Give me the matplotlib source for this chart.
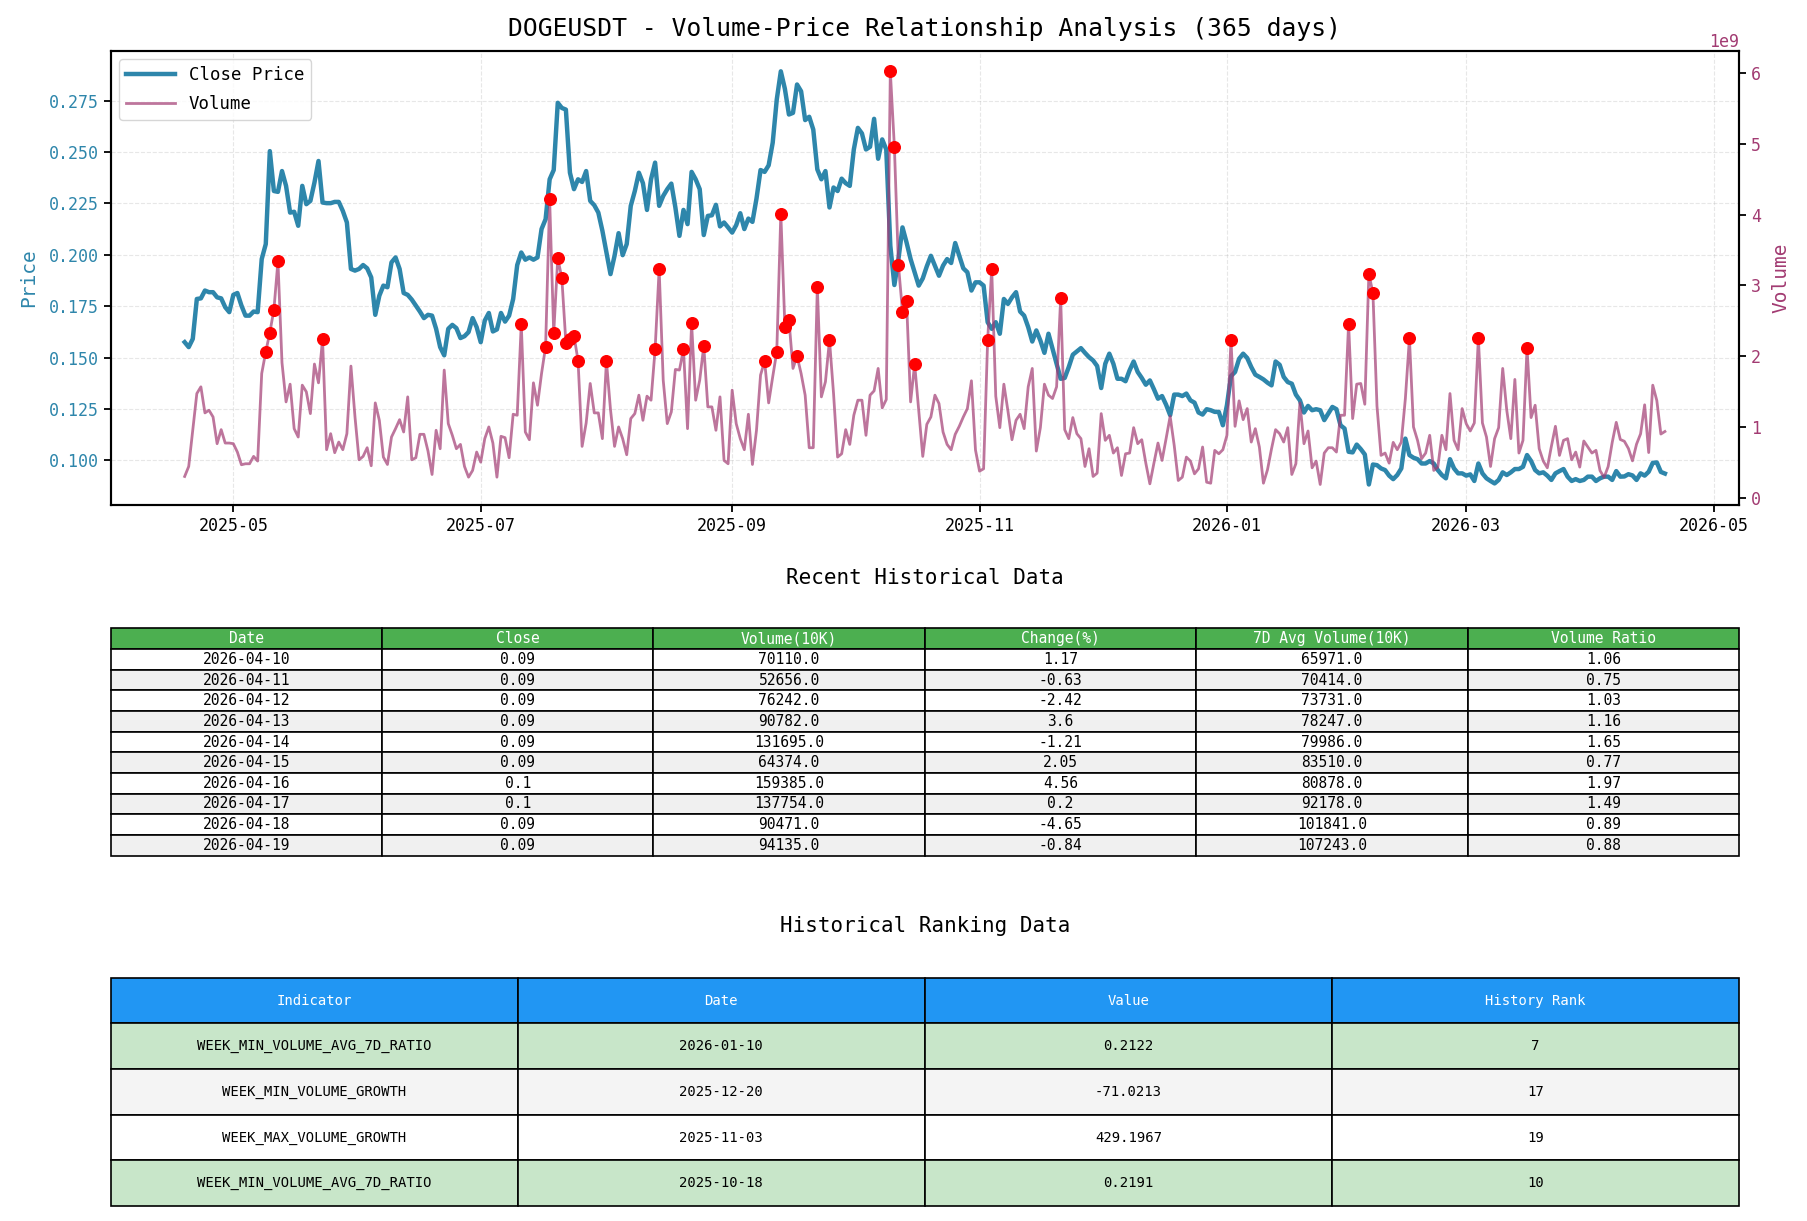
import numpy as np
import pandas as pd
import matplotlib
matplotlib.use('Agg')
import matplotlib.pyplot as plt
import matplotlib.dates as mdates

plt.rcParams['font.family'] = ['DejaVu Sans Mono']
plt.rcParams['axes.unicode_minus'] = False

# daily data 2025-04-19 .. 2026-04-19
dates = pd.date_range('2025-04-19', '2026-04-19', freq='D')

close = [
    0.1575, 0.1551, 0.1591, 0.1785, 0.1788, 0.1826, 0.1818, 0.1818, 0.1793, 0.1788,
    0.1745, 0.1721, 0.1805, 0.1814, 0.1753, 0.1704, 0.1704, 0.1724, 0.1721, 0.1979,
    0.2052, 0.2504, 0.2310, 0.2306, 0.2407, 0.2335, 0.2205, 0.2209, 0.2141, 0.2335,
    0.2246, 0.2262, 0.2351, 0.2456, 0.2254, 0.2251, 0.2251, 0.2257, 0.2257, 0.2213,
    0.2157, 0.1931, 0.1923, 0.1931, 0.1950, 0.1934, 0.1890, 0.1708, 0.1801, 0.1850,
    0.1842, 0.1963, 0.1987, 0.1931, 0.1814, 0.1805, 0.1782, 0.1753, 0.1724, 0.1692,
    0.1708, 0.1704, 0.1640, 0.1551, 0.1511, 0.1640, 0.1659, 0.1643, 0.1595, 0.1604,
    0.1624, 0.1692, 0.1648, 0.1575, 0.1680, 0.1717, 0.1627, 0.1637, 0.1717, 0.1675,
    0.1704, 0.1785, 0.1950, 0.2011, 0.1976, 0.1987, 0.1976, 0.1987, 0.2125, 0.2173,
    0.2367, 0.2412, 0.2739, 0.2714, 0.2706, 0.2399, 0.2319, 0.2367, 0.2354, 0.2407,
    0.2262, 0.2241, 0.2205, 0.2117, 0.2011, 0.1906, 0.1995, 0.2105, 0.1998, 0.2052,
    0.2238, 0.2310, 0.2399, 0.2348, 0.2218, 0.2367, 0.2448, 0.2238, 0.2286, 0.2319,
    0.2346, 0.2230, 0.2092, 0.2218, 0.2149, 0.2403, 0.2367, 0.2319, 0.2096, 0.2189,
    0.2192, 0.2243, 0.2138, 0.2157, 0.2133, 0.2108, 0.2144, 0.2202, 0.2125, 0.2176,
    0.2160, 0.2273, 0.2412, 0.2403, 0.2435, 0.2545, 0.2755, 0.2892, 0.2807, 0.2682,
    0.2690, 0.2828, 0.2795, 0.2655, 0.2671, 0.2609, 0.2415, 0.2367, 0.2407, 0.2230,
    0.2327, 0.2310, 0.2370, 0.2348, 0.2335, 0.2512, 0.2617, 0.2590, 0.2512, 0.2525,
    0.2661, 0.2467, 0.2561, 0.2512, 0.2044, 0.1853, 0.1979, 0.2133, 0.2060, 0.1979,
    0.1915, 0.1850, 0.1885, 0.1944, 0.1995, 0.1947, 0.1898, 0.1947, 0.1979, 0.1960,
    0.2057, 0.1995, 0.1934, 0.1915, 0.1826, 0.1866, 0.1866, 0.1850, 0.1672, 0.1640,
    0.1672, 0.1616, 0.1785, 0.1761, 0.1793, 0.1818, 0.1724, 0.1704, 0.1648, 0.1578,
    0.1632, 0.1583, 0.1523, 0.1616, 0.1543, 0.1470, 0.1397, 0.1401, 0.1454, 0.1514,
    0.1530, 0.1546, 0.1523, 0.1502, 0.1486, 0.1459, 0.1352, 0.1470, 0.1519, 0.1470,
    0.1397, 0.1397, 0.1385, 0.1438, 0.1481, 0.1430, 0.1401, 0.1368, 0.1389, 0.1346,
    0.1300, 0.1313, 0.1271, 0.1220, 0.1320, 0.1320, 0.1313, 0.1325, 0.1292, 0.1281,
    0.1233, 0.1223, 0.1249, 0.1244, 0.1236, 0.1236, 0.1171, 0.1268, 0.1410, 0.1430,
    0.1494, 0.1519, 0.1498, 0.1454, 0.1417, 0.1406, 0.1394, 0.1378, 0.1365, 0.1481,
    0.1465, 0.1406, 0.1381, 0.1373, 0.1320, 0.1292, 0.1233, 0.1265, 0.1244, 0.1249,
    0.1244, 0.1196, 0.1228, 0.1260, 0.1249, 0.1171, 0.1155, 0.1042, 0.1039, 0.1077,
    0.1055, 0.1029, 0.0883, 0.0980, 0.0977, 0.0961, 0.0953, 0.0926, 0.0909, 0.0929,
    0.0961, 0.1106, 0.1026, 0.1013, 0.1006, 0.0985, 0.0985, 0.0997, 0.0985, 0.0953,
    0.0929, 0.0913, 0.1006, 0.0961, 0.0937, 0.0937, 0.0926, 0.0932, 0.0900, 0.0985,
    0.0937, 0.0913, 0.0900, 0.0888, 0.0905, 0.0942, 0.0929, 0.0942, 0.0958, 0.0958,
    0.0969, 0.1026, 0.0997, 0.0953, 0.0937, 0.0942, 0.0926, 0.0905, 0.0937, 0.0948,
    0.0958, 0.0921, 0.0900, 0.0909, 0.0900, 0.0905, 0.0921, 0.0921, 0.0900, 0.0913,
    0.0921, 0.0921, 0.0905, 0.0948, 0.0921, 0.0922, 0.0933, 0.0927, 0.0905, 0.0937,
    0.0926, 0.0945, 0.0988, 0.0990, 0.0944, 0.0936,
]

# volume in units of 1e9
volume = [
    0.307, 0.448, 0.958, 1.476, 1.571, 1.203, 1.241, 1.146, 0.769, 0.967,
    0.778, 0.778, 0.769, 0.651, 0.472, 0.486, 0.486, 0.590, 0.524, 1.759,
    2.066, 2.335, 2.656, 3.340, 1.910, 1.358, 1.608, 0.981, 0.863, 1.594,
    1.500, 1.193, 1.892, 1.627, 2.241, 0.684, 0.910, 0.642, 0.792, 0.684,
    0.910, 1.863, 1.146, 0.542, 0.590, 0.712, 0.458, 1.344, 1.099, 0.580,
    0.476, 0.863, 0.981, 1.108, 0.934, 1.429, 0.542, 0.571, 0.901, 0.901,
    0.665, 0.335, 0.958, 0.698, 1.807, 1.052, 0.887, 0.698, 0.759, 0.448,
    0.297, 0.392, 0.651, 0.509, 0.840, 1.005, 0.778, 0.297, 0.873, 0.854,
    0.571, 1.184, 1.170, 2.453, 0.934, 0.825, 1.627, 1.311, 1.759, 2.137,
    4.212, 2.325, 3.387, 3.104, 2.193, 2.241, 2.292, 1.939, 0.731, 1.061,
    1.618, 1.203, 1.203, 0.840, 1.934, 1.250, 0.731, 1.005, 0.840, 0.613,
    1.123, 1.193, 1.453, 1.099, 1.439, 1.382, 2.099, 3.231, 1.665, 1.052,
    1.217, 1.816, 1.807, 2.099, 0.981, 2.467, 1.382, 1.665, 2.146, 1.288,
    1.288, 0.958, 1.429, 0.533, 0.486, 1.524, 1.052, 0.840, 0.684, 1.184,
    0.476, 0.958, 1.736, 1.934, 1.344, 1.712, 2.066, 4.014, 2.420, 2.514,
    1.830, 2.005, 1.759, 1.453, 0.712, 0.712, 2.976, 1.429, 1.642, 2.231,
    1.476, 0.580, 0.627, 0.967, 0.759, 1.170, 1.382, 1.382, 0.887, 1.453,
    1.514, 1.830, 1.274, 1.392, 6.019, 4.958, 3.288, 2.632, 2.783, 1.358,
    1.892, 1.241, 0.590, 1.042, 1.146, 1.453, 1.335, 0.934, 0.759, 0.684,
    0.901, 1.014, 1.146, 1.264, 1.656, 0.680, 0.382, 0.415, 2.231, 3.231,
    1.439, 0.995, 1.608, 1.231, 0.825, 1.099, 1.184, 0.981, 1.571, 1.830,
    0.665, 0.995, 1.608, 1.453, 1.406, 1.571, 2.821, 0.967, 0.840, 1.137,
    0.910, 0.840, 0.448, 0.698, 0.307, 0.354, 1.193, 0.816, 0.887, 0.637,
    0.712, 0.321, 0.627, 0.637, 0.995, 0.769, 0.825, 0.495, 0.203, 0.495,
    0.778, 0.533, 0.840, 1.156, 0.745, 0.250, 0.297, 0.580, 0.524, 0.344,
    0.415, 0.722, 0.226, 0.212, 0.675, 0.627, 0.684, 0.887, 2.231, 1.014,
    1.373, 1.108, 1.264, 0.792, 0.981, 0.722, 0.212, 0.401, 0.698, 0.967,
    0.910, 0.792, 0.995, 0.335, 0.486, 1.344, 0.769, 0.948, 0.429, 0.524,
    0.194, 0.637, 0.712, 0.712, 0.651, 1.170, 1.170, 2.458, 1.123, 1.608,
    1.618, 1.325, 3.165, 2.892, 1.300, 0.604, 0.637, 0.495, 0.788, 0.684,
    0.792, 1.406, 2.255, 1.005, 0.816, 0.557, 0.637, 0.887, 0.392, 0.439,
    0.887, 0.684, 1.476, 0.816, 0.684, 1.264, 1.052, 0.948, 1.061, 2.255,
    1.061, 0.863, 0.448, 0.840, 0.995, 1.830, 1.241, 0.840, 1.675, 0.637,
    0.816, 2.113, 1.137, 1.311, 0.698, 0.524, 0.429, 0.731, 1.014, 0.604,
    0.816, 0.840, 0.542, 0.651, 0.439, 0.807, 0.722, 0.637, 0.675, 0.390,
    0.294, 0.446, 0.786, 1.070, 0.828, 0.803, 0.701, 0.527, 0.762, 0.908,
    1.317, 0.644, 1.594, 1.378, 0.905, 0.941,
]

# days flagged as volume spikes (index into dates)
spike_idx = [20, 21, 22, 23, 34, 83, 89, 90, 91, 92, 93, 94, 95, 96, 97, 104,
             116, 117, 123, 125, 128, 143, 146, 147, 148, 149, 151, 156, 159,
             174, 175, 176, 177, 178, 180, 198, 199, 216, 258, 287, 292, 293,
             302, 319, 331]

# recent data table
recent_cols = ['Date', 'Close', 'Volume(10K)', 'Change(%)', '7D Avg Volume(10K)', 'Volume Ratio']
recent_dates = ['2026-04-10', '2026-04-11', '2026-04-12', '2026-04-13', '2026-04-14',
                '2026-04-15', '2026-04-16', '2026-04-17', '2026-04-18', '2026-04-19']
recent_close = [0.09, 0.09, 0.09, 0.09, 0.09, 0.09, 0.1, 0.1, 0.09, 0.09]
recent_vol = [70110.0, 52656.0, 76242.0, 90782.0, 131695.0, 64374.0, 159385.0, 137754.0, 90471.0, 94135.0]
recent_change = [1.17, -0.63, -2.42, 3.6, -1.21, 2.05, 4.56, 0.2, -4.65, -0.84]
recent_avg = [65971.0, 70414.0, 73731.0, 78247.0, 79986.0, 83510.0, 80878.0, 92178.0, 101841.0, 107243.0]
recent_ratio = [1.06, 0.75, 1.03, 1.16, 1.65, 0.77, 1.97, 1.49, 0.89, 0.88]

# ranking table
rank_cols = ['Indicator', 'Date', 'Value', 'History Rank']
rank_ind = ['WEEK_MIN_VOLUME_AVG_7D_RATIO', 'WEEK_MIN_VOLUME_GROWTH',
            'WEEK_MAX_VOLUME_GROWTH', 'WEEK_MIN_VOLUME_AVG_7D_RATIO']
rank_dates = ['2026-01-10', '2025-12-20', '2025-11-03', '2025-10-18']
rank_vals = ['0.2122', '-71.0213', '429.1967', '0.2191']
rank_pos = [7, 17, 19, 10]

price_color = '#2E86AB'
vol_color = '#A23B72'

fig = plt.figure(figsize=(18.08, 12.21), dpi=100)

# ---- main chart
ax1 = fig.add_axes([0.0612, 0.5863, 0.9006, 0.3722])
l1, = ax1.plot(dates, close, color=price_color, linewidth=3.2, label='Close Price')
ax1.set_ylabel('Price', color=price_color, fontsize=14, labelpad=8)
ax1.tick_params(axis='y', labelcolor=price_color, labelsize=12, width=1.3, length=5)
ax1.tick_params(axis='x', labelsize=12, width=1.3, length=5)
ax1.grid(True, linestyle='--', alpha=0.3)
ax1.xaxis.set_major_locator(mdates.MonthLocator(bymonth=[1, 3, 5, 7, 9, 11]))
ax1.xaxis.set_major_formatter(mdates.DateFormatter('%Y-%m'))

ax2 = ax1.twinx()
vol = np.array(volume) * 1e9
l2, = ax2.plot(dates, vol, color=vol_color, alpha=0.7, linewidth=2, label='Volume')
ax2.scatter(dates[spike_idx], vol[spike_idx], color='red', s=70, zorder=5)
ax2.set_ylabel('Volume', color=vol_color, fontsize=14, labelpad=8)
ax2.tick_params(axis='y', labelcolor=vol_color, labelsize=12, width=1.3, length=5)
ax2.yaxis.get_offset_text().set_color(vol_color)
ax2.yaxis.get_offset_text().set_fontsize(12)

for ax in (ax1, ax2):
    for sp in ax.spines.values():
        sp.set_linewidth(1.5)

ax1.legend([l1, l2], ['Close Price', 'Volume'], loc='upper left', fontsize=12.5,
           handlelength=2.8, labelspacing=0.6)

fig.text(0.5115, 0.9764, 'DOGEUSDT - Volume-Price Relationship Analysis (365 days)',
         fontsize=17.7, ha='center', va='center')

# ---- recent table
tax1 = fig.add_axes([0.0612, 0.2993, 0.9006, 0.186])
tax1.axis('off')
rows1 = [[d, str(c), str(v), str(ch), str(a), str(r)] for d, c, v, ch, a, r in
         zip(recent_dates, recent_close, recent_vol, recent_change, recent_avg, recent_ratio)]
t1 = tax1.table(cellText=rows1, colLabels=recent_cols, cellLoc='center', bbox=[0, 0, 1, 1])
t1.auto_set_font_size(False)
t1.set_fontsize(10.5)
for (r, c), cell in t1.get_celld().items():
    cell.set_edgecolor('black')
    cell.set_linewidth(1.2)
    if r == 0:
        cell.set_facecolor('#4CAF50')
        cell.get_text().set_color('white')
    elif r % 2 == 0:
        cell.set_facecolor('#f0f0f0')
    else:
        cell.set_facecolor('white')
fig.text(0.5115, 0.5269, 'Recent Historical Data', fontsize=15, ha='center', va='center')

# ---- ranking table
tax2 = fig.add_axes([0.0612, 0.0122, 0.9006, 0.187])
tax2.axis('off')
rows2 = [[i, d, v, str(p)] for i, d, v, p in zip(rank_ind, rank_dates, rank_vals, rank_pos)]
t2 = tax2.table(cellText=rows2, colLabels=rank_cols, cellLoc='center', bbox=[0, 0, 1, 1])
t2.auto_set_font_size(False)
t2.set_fontsize(10)
for (r, c), cell in t2.get_celld().items():
    cell.set_edgecolor('black')
    cell.set_linewidth(1.2)
    if r == 0:
        cell.set_facecolor('#2196F3')
        cell.get_text().set_color('white')
    elif rank_pos[r - 1] <= 10:
        cell.set_facecolor('#C8E6C9')
    elif r % 2 == 0:
        cell.set_facecolor('#f4f4f4')
    else:
        cell.set_facecolor('white')
fig.text(0.5115, 0.2417, 'Historical Ranking Data', fontsize=15, ha='center', va='center')

fig.savefig('out.png', dpi=100)
